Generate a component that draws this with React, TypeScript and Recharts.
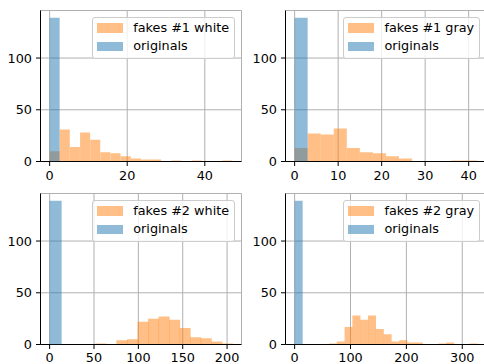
import { ComposedChart, Bar, XAxis, YAxis, CartesianGrid, Legend } from 'recharts';

const FONT = '"DejaVu Sans", sans-serif';
const ORANGE = '#ff7f0e';
const BLUE = '#1f77b4';

// histogram counts (bin start, bin width, counts)
const fakes1WhiteBins = { start: 0, width: 2.617 };
const fakes1WhiteCounts = [10, 31, 14, 28, 21, 9, 8, 5, 3, 2, 2, 0, 1, 0, 1, 0, 0, 1];
const fakes1GrayBins = { start: 0, width: 3.0 };
const fakes1GrayCounts = [13, 27, 26, 32, 13, 9, 8, 5, 3, 0, 0, 0, 1, 1];
const fakes2WhiteBins = { start: 51.5, width: 11.88 };
const fakes2WhiteCounts = [1, 0, 4, 5, 22, 25, 27, 24, 16, 7, 6, 3, 1];
const fakes2GrayBins = { start: 61.4, width: 13.98 };
const fakes2GrayCounts = [1, 3, 17, 28, 24, 28, 15, 10, 3, 4, 2, 2, 0, 0, 1, 2, 0, 0, 1];

const originals1WhiteBins = { start: 0, width: 2.617 };
const originals1GrayBins = { start: 0, width: 3.0 };
const originals2WhiteBins = { start: 0, width: 13.1 };
const originals2GrayBins = { start: 0, width: 14.9 };
const originalsCounts = [139, 0];

const xTicks1White = [0, 20, 40];
const xTicks1Gray = [0, 10, 20, 30, 40];
const xTicks2White = [0, 50, 100, 150, 200];
const xTicks2Gray = [0, 100, 200, 300];
const yTicks = [0, 50, 100];

const toRows = (bins: { start: number; width: number }, counts: number[]) =>
  counts.map((n, i) => ({ x: bins.start + (i + 0.5) * bins.width, n }));

const PLOT_W = 201;
const PLOT_H = 151;

interface PanelProps {
  left: number;
  top: number;
  yAxisW: number;
  mTop: number;
  xLabelGap: number;
  label: string;
  fakeBins: { start: number; width: number };
  fakeCounts: number[];
  origBins: { start: number; width: number };
  xTicks: number[];
}

function HistLegend({ label }: { label: string }) {
  const items = [
    { label, color: ORANGE },
    { label: 'originals', color: BLUE },
  ];
  return (
    <div
      style={{
        background: 'rgba(255,255,255,0.8)',
        border: '1px solid #cccccc',
        borderRadius: 3,
        padding: '3.5px 5px 5.5px 4.5px',
        fontFamily: FONT,
        fontSize: 12.8,
        color: '#000',
        whiteSpace: 'nowrap',
      }}
    >
      {items.map((it, i) => (
        <div key={it.label} style={{ display: 'flex', alignItems: 'center', height: 12.5, marginTop: i ? 6 : 0 }}>
          <span style={{ display: 'inline-block', width: 26, height: 9.3, background: it.color, opacity: 0.5 }} />
          <span style={{ marginLeft: 10, lineHeight: '12.5px' }}>{it.label}</span>
        </div>
      ))}
    </div>
  );
}

function Panel({ left, top, yAxisW, mTop, xLabelGap, label, fakeBins, fakeCounts, origBins, xTicks }: PanelProps) {
  const fakeRows = toRows(fakeBins, fakeCounts);
  const origRows = toRows(origBins, originalsCounts);
  const xMax = Math.max(fakeBins.start + fakeBins.width * fakeCounts.length, origBins.start + origBins.width);
  const xDomain = [-0.05 * xMax, 1.05 * xMax];
  const yMax = Math.max(...originalsCounts, ...fakeCounts) * 1.05;
  const width = yAxisW + PLOT_W + 1;
  const height = 182;
  const xAxisH = height - mTop - PLOT_H;
  const tickStyle = { fill: '#000', fontSize: 12.8, fontFamily: FONT };

  return (
    <div style={{ position: 'absolute', left, top, width, height }}>
      <div style={{ position: 'absolute', left: 0, top: 0 }}>
        <ComposedChart
          width={width}
          height={height}
          data={fakeRows}
          margin={{ top: mTop, right: 1, bottom: 0, left: 0 }}
          barCategoryGap={0}
          barGap={0}
        >
          <CartesianGrid stroke="#b0b0b0" strokeWidth={1} />
          <XAxis
            dataKey="x"
            type="number"
            domain={xDomain}
            allowDataOverflow
            ticks={xTicks}
            height={xAxisH}
            tick={tickStyle}
            tickSize={4.5}
            tickMargin={xLabelGap}
            tickLine={{ stroke: '#000' }}
            axisLine={{ stroke: '#000' }}
          />
          <XAxis
            xAxisId="top"
            orientation="top"
            type="number"
            domain={xDomain}
            allowDataOverflow
            height={0}
            tick={false}
            tickLine={false}
            axisLine={{ stroke: '#000' }}
          />
          <YAxis
            type="number"
            domain={[0, yMax]}
            allowDataOverflow
            ticks={yTicks}
            width={yAxisW}
            tick={tickStyle}
            tickSize={4.5}
            tickMargin={4}
            tickLine={{ stroke: '#000' }}
            axisLine={{ stroke: '#000' }}
          />
          <YAxis
            yAxisId="right"
            orientation="right"
            type="number"
            domain={[0, yMax]}
            allowDataOverflow
            width={0}
            tick={false}
            tickLine={false}
            axisLine={{ stroke: '#000' }}
          />
          <Bar dataKey="n" name={label} fill={ORANGE} fillOpacity={0.5} isAnimationActive={false} />
        </ComposedChart>
      </div>
      <div style={{ position: 'absolute', left: 0, top: 0 }}>
        <ComposedChart
          width={width}
          height={height}
          data={origRows}
          margin={{ top: mTop, right: 1, bottom: xAxisH, left: yAxisW }}
          barCategoryGap={0}
          barGap={0}
        >
          <XAxis dataKey="x" type="number" domain={xDomain} allowDataOverflow hide />
          <YAxis type="number" domain={[0, yMax]} allowDataOverflow hide />
          <Bar dataKey="n" name="originals" fill={BLUE} fillOpacity={0.5} isAnimationActive={false} />
          <Legend
            layout="horizontal"
            verticalAlign="middle"
            align="center"
            wrapperStyle={{ top: mTop + 6.8, right: 1 + 6.4, left: 'auto', width: 'auto', height: 'auto' }}
            content={() => <HistLegend label={label} />}
          />
        </ComposedChart>
      </div>
    </div>
  );
}

export default function App() {
  return (
    <div
      style={{
        position: 'absolute',
        left: 0,
        top: 0,
        width: 484,
        height: 364,
        overflow: 'hidden',
        background: '#fff',
      }}
    >
      <Panel
        left={0}
        top={0}
        yAxisW={40.5}
        mTop={10.5}
        xLabelGap={5}
        label="fakes #1 white"
        fakeBins={fakes1WhiteBins}
        fakeCounts={fakes1WhiteCounts}
        origBins={originals1WhiteBins}
        xTicks={xTicks1White}
      />
      <Panel
        left={242}
        top={0}
        yAxisW={43.5}
        mTop={10.5}
        xLabelGap={5}
        label="fakes #1 gray"
        fakeBins={fakes1GrayBins}
        fakeCounts={fakes1GrayCounts}
        origBins={originals1GrayBins}
        xTicks={xTicks1Gray}
      />
      <Panel
        left={0}
        top={182}
        yAxisW={40.5}
        mTop={11.5}
        xLabelGap={3.5}
        label="fakes #2 white"
        fakeBins={fakes2WhiteBins}
        fakeCounts={fakes2WhiteCounts}
        origBins={originals2WhiteBins}
        xTicks={xTicks2White}
      />
      <Panel
        left={242}
        top={182}
        yAxisW={43.5}
        mTop={11.5}
        xLabelGap={3.5}
        label="fakes #2 gray"
        fakeBins={fakes2GrayBins}
        fakeCounts={fakes2GrayCounts}
        origBins={originals2GrayBins}
        xTicks={xTicks2Gray}
      />
    </div>
  );
}
